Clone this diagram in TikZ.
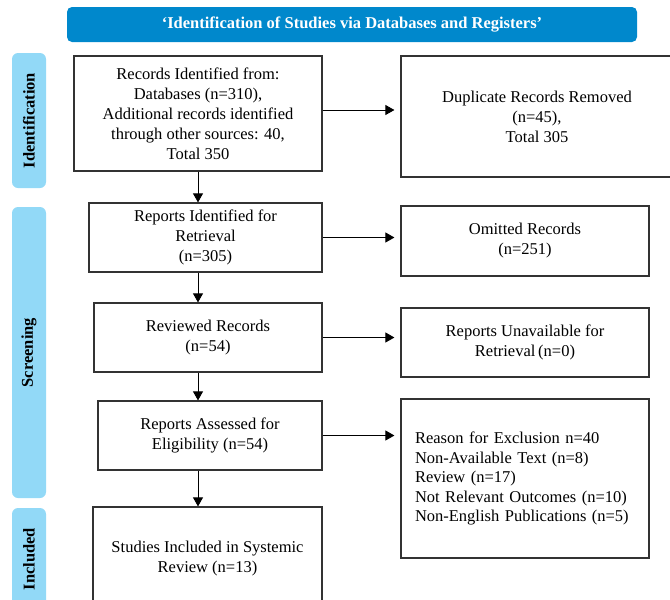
\documentclass[tikz,border=0pt]{standalone}
\usepackage{fontspec}
\setmainfont{Liberation Serif}
\usetikzlibrary{arrows.meta}
\definecolor{headblue}{RGB}{0,136,204}
\definecolor{sideblue}{RGB}{146,217,247}
\tikzset{every node/.style={font=\fontsize{16.5}{20}\selectfont}}
\tikzset{box/.style={draw=black!80,line width=1.2pt,align=center,inner sep=0pt}}
\tikzset{side/.style={fill=sideblue,rounded corners=6pt,minimum height=34pt,inner sep=0pt,font=\fontsize{16.5}{20}\selectfont\bfseries}}
\tikzset{arr/.style={-{Triangle[length=9pt,width=10pt]},line width=0.9pt}}

\begin{document}
\begin{tikzpicture}[x=1pt,y=-1pt]
\clip (0,0) rectangle (670,600);

% header and side bars
\node[fill=headblue,rounded corners=5pt,minimum width=570pt,minimum height=35pt,inner sep=0pt,text=white,font=\fontsize{16.5}{20}\selectfont\bfseries] (head) at (352,24.5) {`Identification of Studies via Databases and Registers'};
\node[side,minimum width=135pt,rotate=90] (sa) at (29,120.5) {Identification};
\node[side,minimum width=291pt,rotate=90] (sb) at (29,352.5) {Screening};
\node[side,minimum width=102pt,rotate=90] (sc) at (29,559) {Included};

% create the boxes
\node[box,minimum width=248pt,minimum height=115pt] (rec) at (198,113.5) {Records Identified from:\\Databases (n=310),\\Additional records identified\\through other sources: 40,\\Total 350};
\node[box,minimum width=272pt,minimum height=121pt] (dup) at (537,116.5) {Duplicate Records Removed\\(n=45),\\Total 305};
\node[box,minimum width=233pt,minimum height=69pt] (ret) at (205.5,237.5) {Reports Identified for\\Retrieval\\(n=305)};
\node[box,minimum width=248pt,minimum height=70pt] (omit) at (525,241) {Omitted Records\\(n=251)};
\node[box,minimum width=228pt,minimum height=69pt] (rev) at (208,337.5) {Reviewed Records\\(n=54)};
\node[box,minimum width=248pt,minimum height=69pt] (unav) at (525,342.5) {Reports Unavailable for\\Retrieval\,(n=0)};
\node[box,minimum width=224pt,minimum height=69pt] (elig) at (210,435.5) {Reports Assessed for\\Eligibility (n=54)};
\node[box,minimum height=159pt,text width=220pt,inner xsep=14pt,align=left,font=\fontsize{16.5}{19.5}\selectfont] (excl) at (525,478.5) {Reason for Exclusion n=40\\Non-Available Text (n=8)\\Review (n=17)\\Not Relevant Outcomes (n=10)\\Non-English Publications (n=5)};
\node[box,minimum width=229pt,minimum height=103pt] (incl) at (207.5,558.5) {Studies Included in Systemic\\Review (n=13)};

% arrows down
\draw[arr] (rec.south) -- (ret.north -| rec.south);
\draw[arr] (ret.south -| rec.south) -- (rev.north -| rec.south);
\draw[arr] (rev.south -| rec.south) -- (elig.north -| rec.south);
\draw[arr] (elig.south -| rec.south) -- (incl.north -| rec.south);

% arrows right
\draw[arr,shorten >=6pt] ([yshift=3.5pt]rec.east) -- ([yshift=3.5pt]rec.east -| dup.west);
\draw[arr,shorten >=6pt] (ret.east) -- (ret.east -| omit.west);
\draw[arr,shorten >=6pt] (rev.east) -- (rev.east -| unav.west);
\draw[arr,shorten >=6pt] (elig.east) -- (elig.east -| excl.west);

\end{tikzpicture}
\end{document}
